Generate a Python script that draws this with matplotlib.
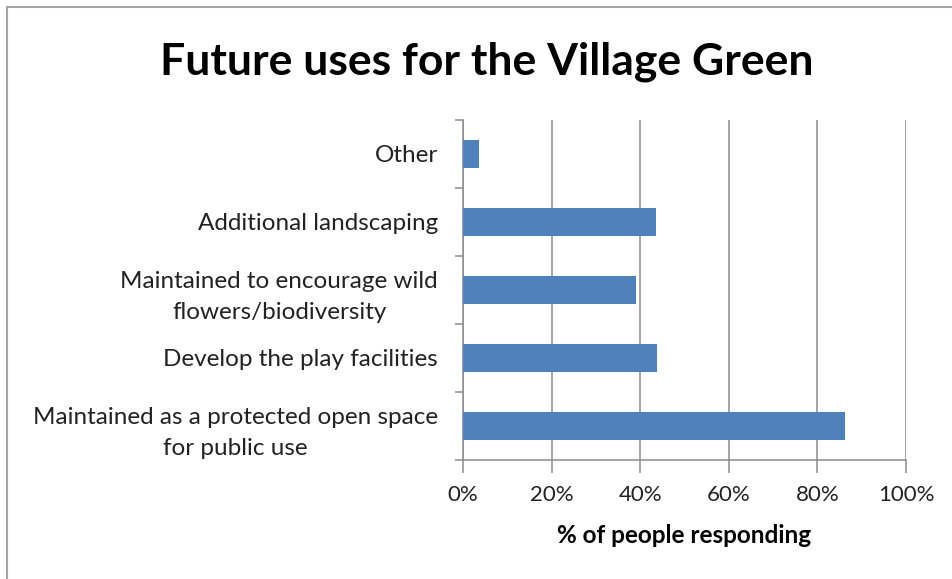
import numpy as np
import matplotlib
matplotlib.use("Agg")
import matplotlib.pyplot as plt
from matplotlib.patches import Rectangle

plt.rcParams['font.family'] = ['Lato', 'DejaVu Sans']

# survey answers, bottom to top
options = ["Maintained as a protected open space\nfor public use",
           "Develop the play facilities",
           "Maintained to encourage wild\nflowers/biodiversity",
           "Additional landscaping",
           "Other"]
pct = [86.3, 43.9, 39.0, 43.6, 3.7]
xticks = [0, 20, 40, 60, 80, 100]

W, H = 953, 579
fig = plt.figure(figsize=(W/100, H/100), dpi=100)
# plot area in pixels: x 463..906, y 120..460
ax = fig.add_axes([463/W, 1-460/H, (906-463)/W, (460-120)/H])

y = np.arange(len(options))
ax.barh(y, pct, height=0.4, color='#4F81BD', zorder=3)
ax.set_xlim(0, 100)
ax.set_ylim(-0.5, len(options)-0.5)

ax.set_xticks(xticks)
ax.set_xticklabels([f"{v}%" for v in xticks], fontsize=16, color='#222222')
ax.xaxis.grid(True, color='#8c8c8c', linewidth=1.1, zorder=0)
ax.tick_params(axis='x', length=9, width=1.1, color='#8c8c8c', pad=9)

# category labels sit between the boundary ticks
ax.set_yticks(np.arange(-0.5, len(options)), minor=False)
ax.set_yticklabels([])
ax.set_yticks(y, minor=True)
ax.set_yticklabels(options, minor=True, fontsize=17.5, color='#222222',
                   multialignment='center', linespacing=1.6)
ax.tick_params(axis='y', which='major', length=6, width=1.1, color='#8c8c8c')
ax.tick_params(axis='y', which='minor', length=0, pad=18)

for s in ['top', 'right']:
    ax.spines[s].set_visible(False)
for s in ['left', 'bottom']:
    ax.spines[s].set_color('#8c8c8c')
    ax.spines[s].set_linewidth(1.1)

ax.set_xlabel("% of people responding", fontsize=17.5, fontweight='bold',
              labelpad=14)

fig.text(487/W, 1-62/H, "Future uses for the Village Green", fontsize=32,
         fontweight='bold', ha='center', va='center')

# chart frame
fig.patches.append(Rectangle((7/W, -0.1), 1.2, 1-7/H+0.1, transform=fig.transFigure,
                             fill=False, edgecolor='#a6a6a6', linewidth=1.5))

fig.savefig("out.png", dpi=100)
